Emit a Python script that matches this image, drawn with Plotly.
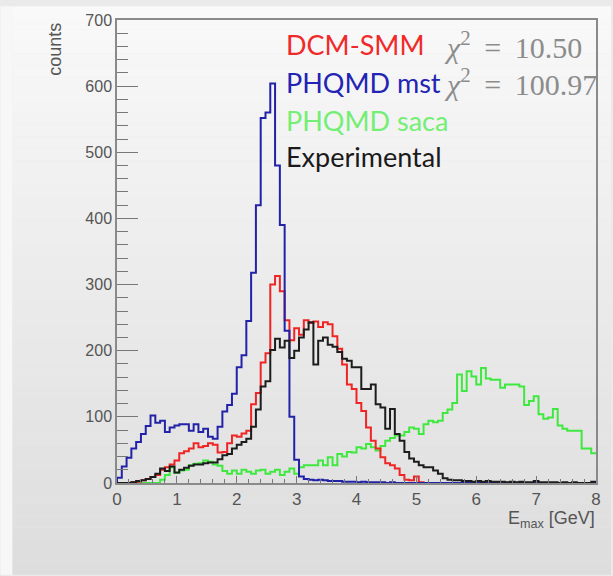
import numpy as np
import plotly.graph_objects as go

# Histogram binning (GeV)
BIN_WIDTH = 0.08
X_MIN, X_MAX = 0.0, 8.0

# Counts per bin, 100 bins from 0 to 8 GeV
dcm_smm = [
    0, 0, 0, 1, 2, 4, 6, 9, 12, 20,
    24, 28, 34, 45, 48, 52, 60, 54, 56, 60,
    58, 46, 47, 60, 72, 70, 75, 79, 119, 136,
    182, 196, 300, 313, 290, 246, 216, 234, 224, 246,
    242, 244, 236, 243, 240, 222, 203, 179, 149, 142,
    121, 109, 84, 64, 52, 39, 30, 27, 22, 12,
    5, 4, 10, 1, 0, 0, 0, 0, 0, 0,
    0, 0, 0, 0, 0, 0, 0, 0, 0, 0,
    0, 0, 0, 0, 0, 0, 0, 0, 0, 0,
    0, 0, 0, 0, 0, 0, 0, 0, 0, 0,
]
phqmd_mst = [
    8, 25, 38, 52, 62, 74, 86, 102, 91, 94,
    77, 84, 87, 89, 89, 79, 89, 77, 82, 70,
    67, 85, 108, 118, 135, 175, 193, 245, 318, 420,
    552, 560, 604, 480, 390, 230, 100, 35, 10, 6,
    5, 4, 5, 4, 3, 3, 3, 2, 2, 2,
    1, 2, 1, 1, 1, 1, 0, 1, 0, 0,
    0, 0, 0, 0, 0, 0, 0, 0, 0, 0,
    0, 0, 0, 0, 0, 0, 0, 0, 0, 0,
    0, 0, 0, 0, 0, 0, 0, 0, 0, 0,
    0, 0, 0, 0, 0, 0, 0, 0, 0, 0,
]
phqmd_saca = [
    0, 0, 0, 0, 0, 0, 0, 0, 0, 5,
    12, 24, 15, 19, 20, 27, 29, 30, 34, 32,
    28, 26, 18, 14, 19, 14, 20, 17, 14, 19,
    20, 14, 17, 20, 12, 17, 22, 14, 24, 27,
    27, 27, 34, 27, 39, 27, 44, 40, 47, 46,
    54, 52, 59, 54, 49, 56, 64, 68, 72, 72,
    77, 84, 82, 74, 89, 94, 92, 94, 106, 111,
    121, 164, 139, 169, 161, 149, 174, 158, 156, 156,
    144, 149, 149, 149, 146, 118, 124, 131, 104, 97,
    99, 112, 87, 82, 79, 79, 79, 52, 52, 45,
]
experimental = [
    0, 0, 0, 1, 3, 4, 6, 9, 14, 22,
    18, 25, 16, 20, 23, 26, 28, 28, 30, 31,
    31, 36, 42, 44, 52, 58, 62, 67, 85, 111,
    146, 154, 201, 218, 205, 215, 189, 200, 220, 232,
    243, 179, 215, 220, 209, 206, 198, 188, 185, 175,
    175, 142, 142, 149, 119, 114, 82, 112, 74, 64,
    47, 37, 32, 27, 24, 24, 19, 14, 7, 5,
    4, 4, 3, 3, 2, 3, 2, 3, 2, 2,
    2, 1, 2, 1, 2, 1, 1, 3, 1, 1,
    1, 1, 0, 1, 0, 1, 0, 0, 0, 2,
]

series = [
    ("PHQMD saca", phqmd_saca, "#3fe83f"),
    ("DCM-SMM", dcm_smm, "#f02424"),
    ("PHQMD mst", phqmd_mst, "#2222a8"),
    ("Experimental", experimental, "#1c1c1c"),
]

n_bins = int(round((X_MAX - X_MIN) / BIN_WIDTH))
edges = np.linspace(X_MIN, X_MAX, n_bins + 1)

# Figure / plot-area geometry in pixels
FIG_W, FIG_H = 613, 576
L, R, T, B = 117, 598, 14, 483
PW, PH = R - L, B - T


def px_x(px):
    return (px - L) / PW


def px_y(py):
    return (B - py) / PH


fig = go.Figure()

for name, vals, color in series:
    xs = np.concatenate([[edges[0]], edges])
    ys = np.concatenate([[0], vals, [vals[-1]]])
    fig.add_trace(go.Scatter(
        x=xs, y=ys, mode="lines", name=name,
        line=dict(color=color, width=2, shape="hv"),
        showlegend=False, hoverinfo="skip",
    ))

# Slide-like backdrop: pale strip on the left, vertical grey gradient elsewhere
shapes = [dict(type="rect", xref="paper", yref="paper", layer="below",
               x0=px_x(0), x1=px_x(12), y0=px_y(FIG_H), y1=px_y(0),
               fillcolor="#f7f7f7", line=dict(width=0))]
n_bands = 48
for k in range(n_bands):
    y_top = FIG_H * k / n_bands
    y_bot = FIG_H * (k + 1) / n_bands
    t = (k + 0.5) / n_bands
    g = int(round(249 - 28 * t))
    shapes.append(dict(type="rect", xref="paper", yref="paper", layer="below",
                       x0=px_x(12), x1=px_x(FIG_W), y0=px_y(y_bot), y1=px_y(y_top),
                       fillcolor=f"rgb({g},{g},{g})", line=dict(width=0)))

sans = "Liberation Sans, Arial, sans-serif"
serif = "Liberation Serif, Times New Roman, serif"
label_font = "Lato, Liberation Sans, sans-serif"

THIN = "\u2009"
annotations = []
legend_rows = [
    ("DCM-SMM", "#f02a2a", 39, f"<i>χ</i><sup>2</sup> {THIN}={THIN} 10.50"),
    ("PHQMD mst", "#2323b4", 77, f"<i>χ</i><sup>2</sup> {THIN}={THIN} 100.97"),
    ("PHQMD saca", "#74ee74", 116, None),
    ("Experimental", "#1a1a1a", 152, None),
]
for text, color, ypx, chi in legend_rows:
    annotations.append(dict(
        text=text, xref="paper", yref="paper", x=px_x(285), y=px_y(ypx),
        xanchor="left", yanchor="middle", showarrow=False,
        font=dict(family=label_font, size=27, color=color)))
    if chi:
        annotations.append(dict(
            text=chi, xref="paper", yref="paper", x=px_x(443), y=px_y(ypx),
            xanchor="left", yanchor="middle", showarrow=False,
            font=dict(family=serif, size=30, color="#8c8c8c")))

annotations.append(dict(
    text="counts", xref="paper", yref="paper", x=px_x(55), y=px_y(15),
    xanchor="center", yanchor="top", textangle=-90, showarrow=False,
    font=dict(family=sans, size=18, color="#555555")))
annotations.append(dict(
    text="E<sub>max</sub> [GeV]", xref="paper", yref="paper", x=px_x(599), y=px_y(520),
    xanchor="right", yanchor="middle", showarrow=False,
    font=dict(family=sans, size=18, color="#555555")))

fig.update_layout(
    width=FIG_W, height=FIG_H, autosize=False,
    margin=dict(l=L, r=FIG_W - R, t=T, b=FIG_H - B, pad=0),
    paper_bgcolor="#eaeaea", plot_bgcolor="rgba(0,0,0,0)",
    shapes=shapes, annotations=annotations,
    xaxis=dict(
        range=[X_MIN, X_MAX], tickmode="linear", tick0=0, dtick=1,
        ticks="inside", ticklen=7, tickwidth=1, tickcolor="#777777",
        minor=dict(ticks="inside", ticklen=4, dtick=0.2, tickcolor="#777777", showgrid=False),
        showline=True, linecolor="#8a8a8a", linewidth=1.5, mirror=True,
        showgrid=False, zeroline=False,
        tickfont=dict(family=sans, size=17, color="#555555"),
    ),
    yaxis=dict(
        range=[0, 700], tickmode="linear", tick0=0, dtick=100,
        ticks="inside", ticklen=21, tickwidth=1.2, tickcolor="#777777",
        minor=dict(ticks="inside", ticklen=11, dtick=20, tickcolor="#777777", showgrid=False),
        showline=True, linecolor="#8a8a8a", linewidth=1.5, mirror=True,
        showgrid=False, zeroline=False,
        tickfont=dict(family=sans, size=16, color="#555555"),
    ),
)

fig.write_html("out.html")
